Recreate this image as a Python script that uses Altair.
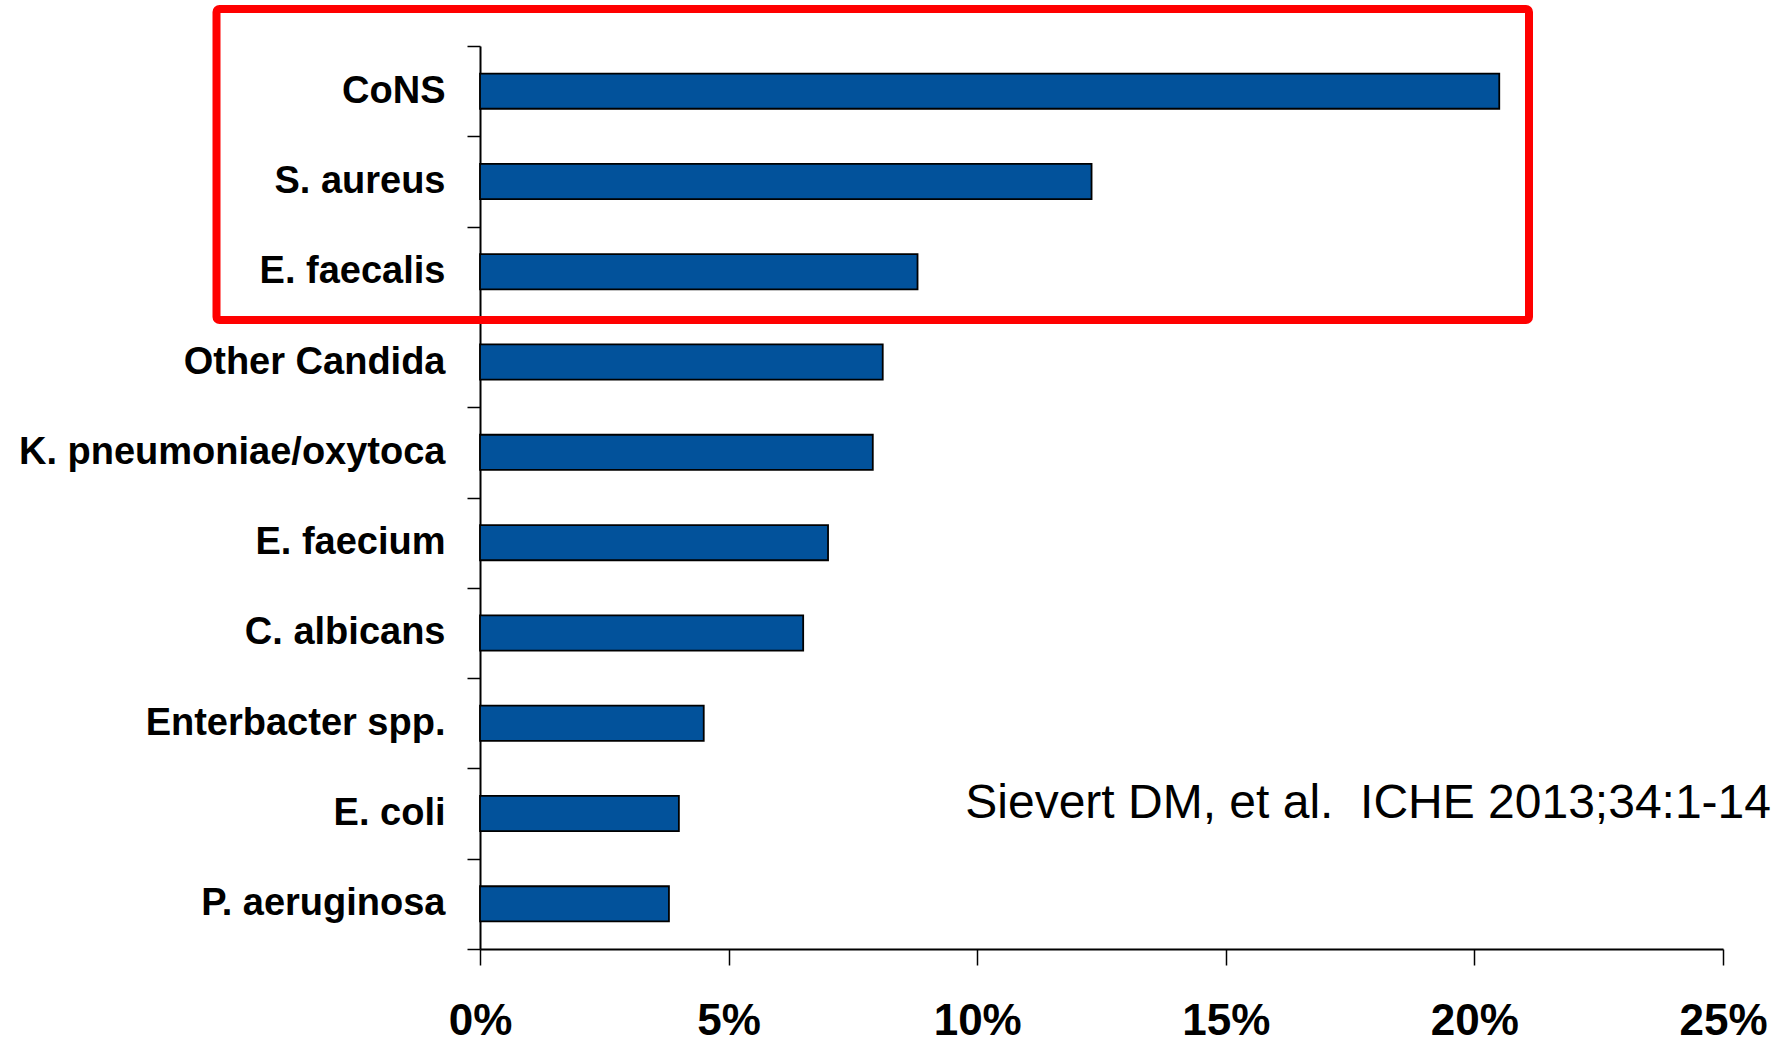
import altair as alt
import pandas as pd

# Pathogens reported for central-line associated bloodstream infections
organisms = [
    "CoNS",
    "S. aureus",
    "E. faecalis",
    "Other Candida",
    "K. pneumoniae/oxytoca",
    "E. faecium",
    "C. albicans",
    "Enterbacter spp.",
    "E. coli",
    "P. aeruginosa",
]
percent = [20.5, 12.3, 8.8, 8.1, 7.9, 7.0, 6.5, 4.5, 4.0, 3.8]
x_ticks = [0, 5, 10, 15, 20, 25]
citation = "Sievert DM, et al.\u00a0 ICHE 2013;34:1-14"

df = pd.DataFrame({"organism": organisms, "percent": percent})

FONT = "Liberation Sans, Arial, sans-serif"
W, H = 1243, 903

bars = alt.Chart(df).mark_bar(
    color="#02529B", stroke="black", strokeWidth=1.8, height={"band": 0.39}
).encode(
    y=alt.Y(
        "organism:N",
        sort=organisms,
        scale=alt.Scale(paddingInner=0, paddingOuter=0),
        axis=alt.Axis(
            title=None,
            domainColor="black",
            domainWidth=2,
            tickColor="black",
            tickWidth=1.5,
            tickSize=13,
            tickBand="extent",
            labelFont=FONT,
            labelFontSize=38,
            labelFontWeight="bold",
            labelColor="black",
            labelPadding=22,
            labelLimit=600,
            grid=False,
        ),
    ),
    x=alt.X(
        "percent:Q",
        scale=alt.Scale(domain=[0, 25], nice=False),
        axis=alt.Axis(
            title=None,
            values=x_ticks,
            labelExpr="datum.value + '%'",
            domainColor="black",
            domainWidth=2,
            tickColor="black",
            tickWidth=1.5,
            tickSize=16,
            labelFont=FONT,
            labelFontSize=44,
            labelFontWeight="bold",
            labelColor="black",
            labelPadding=34,
            labelOverlap=False,
            labelFlush=False,
            grid=False,
        ),
    ),
)

# Source reference in the lower right of the plot
note = alt.Chart(pd.DataFrame({"t": [citation]})).mark_text(
    font=FONT, fontSize=48, color="black", align="right", baseline="alphabetic"
).encode(
    text="t:N",
    x=alt.value(1291),
    y=alt.value(772),
)

# Red frame highlighting the three leading organisms
frame = alt.Chart(pd.DataFrame({"k": [0]})).mark_rect(
    fill="white", fillOpacity=0, stroke="#FF0000", strokeWidth=8,
    cornerRadius=3, strokeJoin="round",
).encode(
    x=alt.value(-263.5),
    x2=alt.value(1049),
    y=alt.value(-37),
    y2=alt.value(274),
)

chart = alt.layer(bars, note, frame).properties(
    width=W,
    height=H,
    autosize=alt.AutoSizeParams(type="none"),
    padding={"left": 480, "top": 46, "right": 1788 - 480 - W, "bottom": 1042 - 46 - H},
    background="white",
).configure_view(stroke=None)

chart.save("out.html", embed_options={"renderer": "svg", "actions": False})
